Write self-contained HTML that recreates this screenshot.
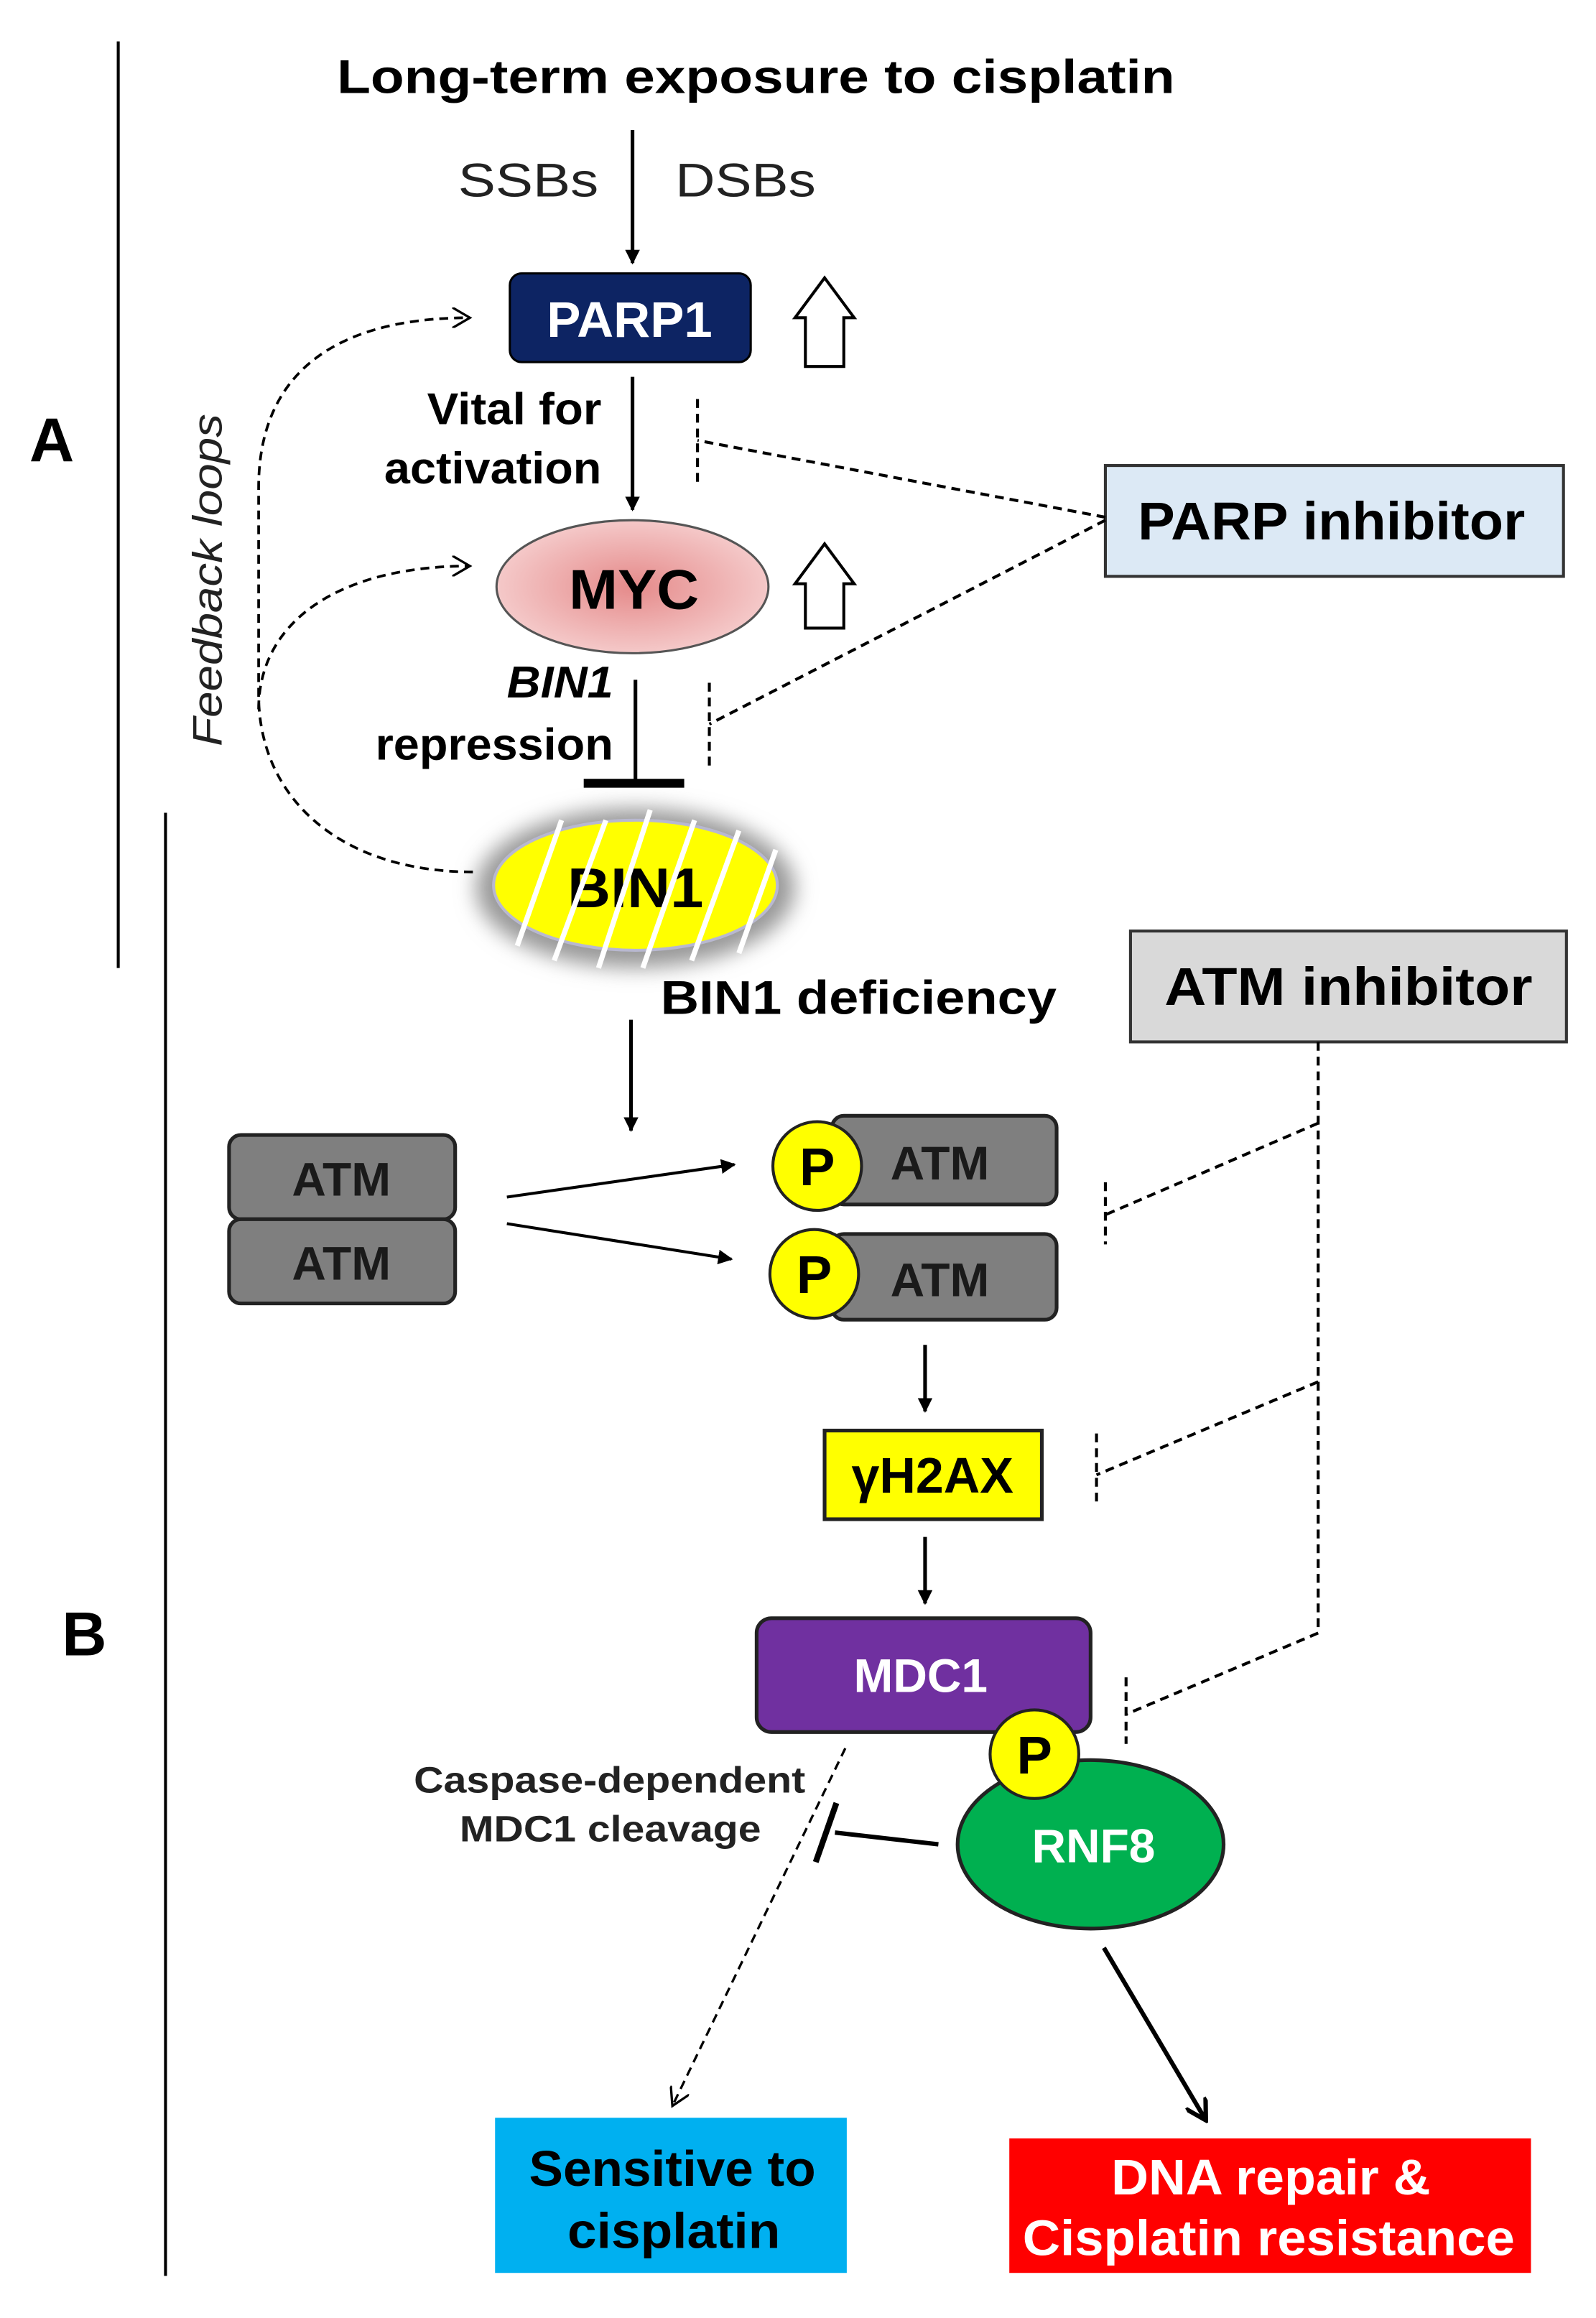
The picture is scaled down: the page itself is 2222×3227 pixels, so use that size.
<!DOCTYPE html>
<html><head><meta charset="utf-8"><style>html,body{margin:0;padding:0;background:#fff}svg{display:block}</style></head>
<body>
<svg width="2222" height="3227" viewBox="0 0 1080 1568.5" xmlns="http://www.w3.org/2000/svg" font-family="'Liberation Sans', sans-serif">
<defs>
<marker id="ah" markerWidth="10" markerHeight="10" refX="9" refY="5" orient="auto" markerUnits="userSpaceOnUse"><path d="M0,0 L10,5 L0,10 z" fill="#000"/></marker>
<marker id="ahb" markerWidth="16" markerHeight="16" refX="12" refY="8" orient="auto" markerUnits="userSpaceOnUse"><path d="M0,0 L14,8 L0,16" fill="none" stroke="#000" stroke-width="3"/></marker>
<marker id="ao" markerWidth="14" markerHeight="14" refX="12" refY="7" orient="auto" markerUnits="userSpaceOnUse"><path d="M0,0 L12,7 L0,14" fill="none" stroke="#000" stroke-width="1.6"/></marker>
<radialGradient id="pk" cx="50%" cy="50%" r="55%"><stop offset="0" stop-color="#e58a8a"/><stop offset="1" stop-color="#f6cfcf"/></radialGradient>
<filter id="gl" x="-30%" y="-50%" width="160%" height="200%"><feGaussianBlur stdDeviation="7"/></filter>
</defs>
<line x1="80" y1="28" x2="80" y2="655" stroke="#000" stroke-width="2"/>
<line x1="112" y1="550" x2="112" y2="1540" stroke="#000" stroke-width="2"/>
<text x="35" y="312" font-size="42" font-weight="bold" text-anchor="middle">A</text>
<text x="57" y="1120" font-size="42" font-weight="bold" text-anchor="middle">B</text>
<text x="228" y="63" font-size="32" font-weight="bold" textLength="567" lengthAdjust="spacingAndGlyphs">Long-term exposure to cisplatin</text>
<line x1="428" y1="88" x2="428" y2="178" stroke="#000" stroke-width="2.5" marker-end="url(#ah)"/>
<text x="310" y="133" font-size="32" fill="#222" textLength="95" lengthAdjust="spacingAndGlyphs">SSBs</text>
<text x="457" y="133" font-size="32" fill="#222" textLength="95" lengthAdjust="spacingAndGlyphs">DSBs</text>
<rect x="345" y="185" width="163" height="60" rx="8" fill="#0d2463" stroke="#000" stroke-width="1.5"/>
<text x="370" y="228" font-size="34" font-weight="bold" fill="#fff" textLength="112" lengthAdjust="spacingAndGlyphs">PARP1</text>
<path d="M545,248 L545,215 L538,215 L558,188 L578,215 L571,215 L571,248 Z" fill="#fff" stroke="#000" stroke-width="2"/>
<line x1="428" y1="255" x2="428" y2="345" stroke="#000" stroke-width="2.5" marker-end="url(#ah)"/>
<text x="289" y="287" font-size="30" font-weight="bold" textLength="118" lengthAdjust="spacingAndGlyphs">Vital for</text>
<text x="260" y="327" font-size="30" font-weight="bold" textLength="147" lengthAdjust="spacingAndGlyphs">activation</text>
<ellipse cx="428" cy="397" rx="92" ry="45" fill="url(#pk)" stroke="#555" stroke-width="1.5"/>
<text x="385" y="412" font-size="38" font-weight="bold" textLength="88" lengthAdjust="spacingAndGlyphs">MYC</text>
<path d="M545,425 L545,395 L538,395 L558,368 L578,395 L571,395 L571,425 Z" fill="#fff" stroke="#000" stroke-width="2"/>
<text x="343" y="472" font-size="30" font-weight="bold" font-style="italic" textLength="72" lengthAdjust="spacingAndGlyphs">BIN1</text>
<text x="254" y="514" font-size="30" font-weight="bold" textLength="161" lengthAdjust="spacingAndGlyphs">repression</text>
<line x1="430" y1="460" x2="430" y2="528" stroke="#000" stroke-width="2.5"/>
<line x1="395" y1="530" x2="463" y2="530" stroke="#000" stroke-width="6"/>
<ellipse cx="430" cy="601" rx="108" ry="54" fill="#999" filter="url(#gl)"/>
<ellipse cx="430" cy="599" rx="96" ry="44" fill="#ffff00" stroke="#b8b8d0" stroke-width="2"/>
<text x="384" y="614" font-size="38" font-weight="bold" textLength="92" lengthAdjust="spacingAndGlyphs">BIN1</text>
<g stroke="#fff" stroke-width="3.5">
<line x1="380" y1="555" x2="350" y2="640"/><line x1="410" y1="555" x2="375" y2="650"/>
<line x1="440" y1="548" x2="405" y2="655"/><line x1="470" y1="555" x2="435" y2="655"/>
<line x1="500" y1="562" x2="468" y2="650"/><line x1="525" y1="575" x2="500" y2="645"/>
</g>
<path d="M320,590 C230,590 175,540 175,470 L175,330 C175,250 230,215 318,215" fill="none" stroke="#000" stroke-width="1.8" stroke-dasharray="6,4" marker-end="url(#ao)"/>
<path d="M175,480 C175,420 230,383 318,383" fill="none" stroke="#000" stroke-width="1.8" stroke-dasharray="6,4" marker-end="url(#ao)"/>
<text transform="translate(150,505) rotate(-90)" font-size="28" font-style="italic" fill="#222" textLength="225" lengthAdjust="spacingAndGlyphs">Feedback loops</text>
<rect x="748" y="315" width="310" height="75" fill="#dce9f5" stroke="#333" stroke-width="2"/>
<text x="770" y="365" font-size="36" font-weight="bold" textLength="262" lengthAdjust="spacingAndGlyphs">PARP inhibitor</text>
<g stroke="#000" stroke-width="2" stroke-dasharray="6,4" fill="none">
<line x1="748" y1="350" x2="472" y2="298"/><line x1="472" y1="270" x2="472" y2="330"/>
<line x1="748" y1="352" x2="480" y2="490"/><line x1="480" y1="462" x2="480" y2="518"/>
</g>
<text x="447" y="686" font-size="32" font-weight="bold" textLength="268" lengthAdjust="spacingAndGlyphs">BIN1 deficiency</text>
<rect x="765" y="630" width="295" height="75" fill="#d9d9d9" stroke="#333" stroke-width="2"/>
<text x="788" y="680" font-size="36" font-weight="bold" textLength="249" lengthAdjust="spacingAndGlyphs">ATM inhibitor</text>
<g stroke="#000" stroke-width="2" stroke-dasharray="6,4" fill="none">
<line x1="892" y1="705" x2="892" y2="1105"/>
<line x1="892" y1="760" x2="748" y2="822"/><line x1="748" y1="800" x2="748" y2="842"/>
<line x1="892" y1="935" x2="742" y2="998"/><line x1="742" y1="970" x2="742" y2="1018"/>
<line x1="892" y1="1105" x2="762" y2="1160"/><line x1="762" y1="1135" x2="762" y2="1180"/>
</g>
<line x1="427" y1="690" x2="427" y2="765" stroke="#000" stroke-width="2.5" marker-end="url(#ah)"/>
<rect x="155" y="768" width="153" height="57" rx="8" fill="#7f7f7f" stroke="#222" stroke-width="2.5"/>
<rect x="155" y="825" width="153" height="57" rx="8" fill="#7f7f7f" stroke="#222" stroke-width="2.5"/>
<text x="231" y="809" font-size="32" font-weight="bold" text-anchor="middle" fill="#1a1a1a">ATM</text>
<text x="231" y="866" font-size="32" font-weight="bold" text-anchor="middle" fill="#1a1a1a">ATM</text>
<line x1="343" y1="810" x2="497" y2="788" stroke="#000" stroke-width="2" marker-end="url(#ah)"/>
<line x1="343" y1="828" x2="495" y2="852" stroke="#000" stroke-width="2" marker-end="url(#ah)"/>
<rect x="563" y="755" width="152" height="60" rx="8" fill="#7f7f7f" stroke="#222" stroke-width="2.5"/>
<rect x="563" y="835" width="152" height="58" rx="8" fill="#7f7f7f" stroke="#222" stroke-width="2.5"/>
<text x="636" y="798" font-size="32" font-weight="bold" text-anchor="middle" fill="#1a1a1a">ATM</text>
<text x="636" y="877" font-size="32" font-weight="bold" text-anchor="middle" fill="#1a1a1a">ATM</text>
<circle cx="553" cy="789" r="30" fill="#ffff00" stroke="#222" stroke-width="2"/>
<text x="553" y="802" font-size="36" font-weight="bold" text-anchor="middle">P</text>
<circle cx="551" cy="862" r="30" fill="#ffff00" stroke="#222" stroke-width="2"/>
<text x="551" y="875" font-size="36" font-weight="bold" text-anchor="middle">P</text>
<line x1="626" y1="910" x2="626" y2="955" stroke="#000" stroke-width="2.5" marker-end="url(#ah)"/>
<rect x="558" y="968" width="147" height="60" fill="#ffff00" stroke="#222" stroke-width="2.5"/>
<text x="631" y="1010" font-size="34" font-weight="bold" text-anchor="middle">γH2AX</text>
<line x1="626" y1="1040" x2="626" y2="1085" stroke="#000" stroke-width="2.5" marker-end="url(#ah)"/>
<rect x="512" y="1095" width="226" height="77" rx="10" fill="#7030a0" stroke="#222" stroke-width="2.5"/>
<text x="623" y="1145" font-size="32" font-weight="bold" text-anchor="middle" fill="#fff">MDC1</text>
<ellipse cx="738" cy="1248" rx="90" ry="57" fill="#00b050" stroke="#222" stroke-width="2.5"/>
<text x="740" y="1260" font-size="32" font-weight="bold" text-anchor="middle" fill="#fff">RNF8</text>
<circle cx="700" cy="1187" r="30" fill="#ffff00" stroke="#222" stroke-width="2"/>
<text x="700" y="1200" font-size="36" font-weight="bold" text-anchor="middle">P</text>
<text x="280" y="1213" font-size="25" font-weight="bold" fill="#222" textLength="265" lengthAdjust="spacingAndGlyphs">Caspase-dependent</text>
<text x="311" y="1246" font-size="25" font-weight="bold" fill="#222" textLength="204" lengthAdjust="spacingAndGlyphs">MDC1 cleavage</text>
<line x1="572" y1="1183" x2="455" y2="1425" stroke="#000" stroke-width="1.6" stroke-dasharray="6,4" marker-end="url(#ao)"/>
<line x1="635" y1="1248" x2="565" y2="1240" stroke="#000" stroke-width="3"/>
<line x1="566" y1="1220" x2="552" y2="1260" stroke="#000" stroke-width="4"/>
<line x1="747" y1="1318" x2="815" y2="1433" stroke="#000" stroke-width="3" marker-end="url(#ahb)"/>
<rect x="335" y="1433" width="238" height="105" fill="#00b0f0"/>
<text x="358" y="1479" font-size="34" font-weight="bold" textLength="194" lengthAdjust="spacingAndGlyphs">Sensitive to</text>
<text x="384" y="1521" font-size="34" font-weight="bold" textLength="144" lengthAdjust="spacingAndGlyphs">cisplatin</text>
<rect x="683" y="1447" width="353" height="91" fill="#ff0000"/>
<text x="752" y="1485" font-size="34" font-weight="bold" fill="#fff" textLength="216" lengthAdjust="spacingAndGlyphs">DNA repair &amp;</text>
<text x="692" y="1526" font-size="34" font-weight="bold" fill="#fff" textLength="333" lengthAdjust="spacingAndGlyphs">Cisplatin resistance</text>
</svg>
</body></html>
